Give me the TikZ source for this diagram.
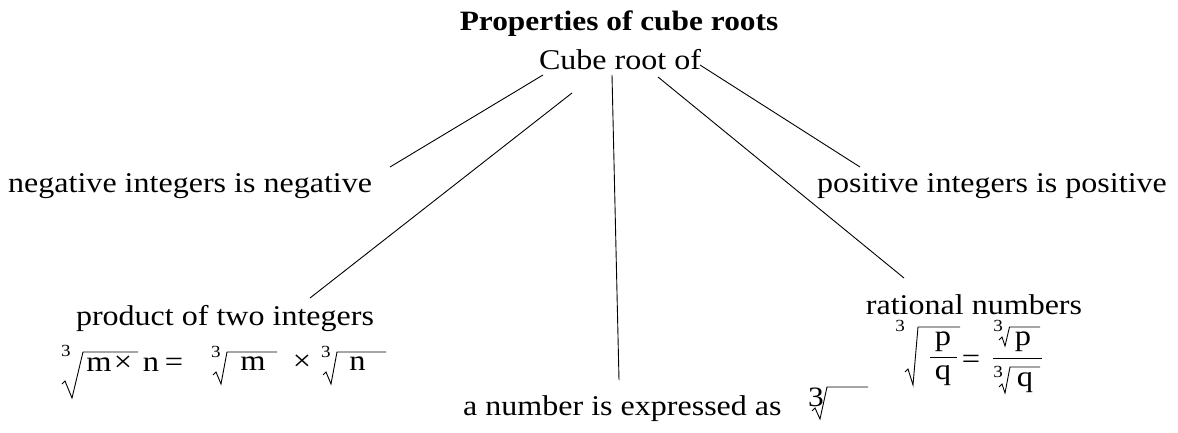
\documentclass[tikz,border=0pt]{standalone}
\usepackage{fontspec}
\setmainfont[FakeStretch=1.12]{Liberation Serif}
\begin{document}
\begin{tikzpicture}[x=1pt,y=-1pt,
  lbl/.style={font=\fontsize{28.6}{32}\selectfont, inner sep=0pt, anchor=base west},
  ttl/.style={font=\fontsize{28}{32}\selectfont\bfseries, inner sep=0pt, anchor=base},
  sym/.style={font=\fontsize{29}{32}\selectfont, inner sep=0pt, anchor=base},
  idx/.style={font=\fontsize{17}{20}\selectfont, inner sep=0pt, anchor=center},
  bigidx/.style={font=\fontsize{28}{30}\selectfont, inner sep=0pt, anchor=center},
  rad/.style={draw, line width=0.9pt, line join=miter},
  bar/.style={draw, line width=0.9pt},
  conn/.style={draw, line width=0.9pt}]
\useasboundingbox (0,0) rectangle (1178,433);
% texts
\node[ttl] (title) at (619,31) {Properties of cube roots};
\node[lbl, anchor=base] (cube) at (620,70) {Cube root of};
\node[lbl] (neg) at (8,193) {negative integers is negative};
\node[lbl] (pos) at (817,193) {positive integers is positive};
\node[lbl, anchor=base] (prod) at (225,325) {product of two integers};
\node[lbl, anchor=base] (rat) at (974,314) {rational numbers};
\node[lbl] (num) at (463,415) {a number is expressed as};
% connector ends
\coordinate (s1) at (543,75);  \coordinate (e1) at (390,167);
\coordinate (s2) at (572,93);  \coordinate (e2) at (310,298);
\coordinate (s3) at (612,75);  \coordinate (e3) at (619,380);
\coordinate (s4) at (658,77);  \coordinate (e4) at (904,278);
\coordinate (s5) at (700,65);  \coordinate (e5) at (860,167);
\draw[conn] (s1) -- (e1);
\draw[conn] (s2) -- (e2);
\draw[conn] (s3) -- (e3);
\draw[conn] (s4) -- (e4);
\draw[conn] (s5) -- (e5);
% formula: product
\node[idx] (p3a) at (66,351) {3};
\draw[rad] (62,384) -- (65,381) -- (72,398) -- (83,352) -- (138,352);
\node[sym] (pm) at (99,371) {m};
\node[sym] (px) at (123,371) {×};
\node[sym] (pn) at (151,371) {n};
\node[sym] (peq) at (174,371) {=};
\node[idx] (p3b) at (216,352) {3};
\draw[rad] (213,375) -- (216,372) -- (221,384) -- (227,352) -- (277,352);
\node[sym] (pm2) at (253,370) {m};
\node[sym] (px2) at (302,370) {×};
\node[idx] (p3c) at (326,352) {3};
\draw[rad] (323,375) -- (326,372) -- (331,384) -- (337,352) -- (386,352);
\node[sym] (pn2) at (357.5,370) {n};
% formula: expressed as
\node[bigidx] (e3i) at (816,397) {3};
\draw[rad] (812,411) -- (815,408) -- (820,419) -- (827,387) -- (868,387);
% formula: rational
\node[idx] (r3a) at (900,326) {3};
\draw[rad] (905,372) -- (908,369) -- (913,385) -- (918,327) -- (960,327);
\node[sym] (rp) at (943,345) {p};
\draw[bar] (930,357.5) -- (957,357.5);
\node[sym] (rq) at (943,379) {q};
\node[sym] (req) at (971,368) {=};
\draw[bar] (993,358.5) -- (1042,358.5);
\node[idx] (r3b) at (998,326) {3};
\draw[rad] (999,340) -- (1002,337) -- (1005,346) -- (1009.5,327) -- (1040,327);
\node[sym] (rp2) at (1023,345) {p};
\node[idx] (r3c) at (998,372) {3};
\draw[rad] (999,387) -- (1002,384) -- (1005,393) -- (1010,367) -- (1040,367);
\node[sym] (rq2) at (1025,386) {q};
\end{tikzpicture}
\end{document}
